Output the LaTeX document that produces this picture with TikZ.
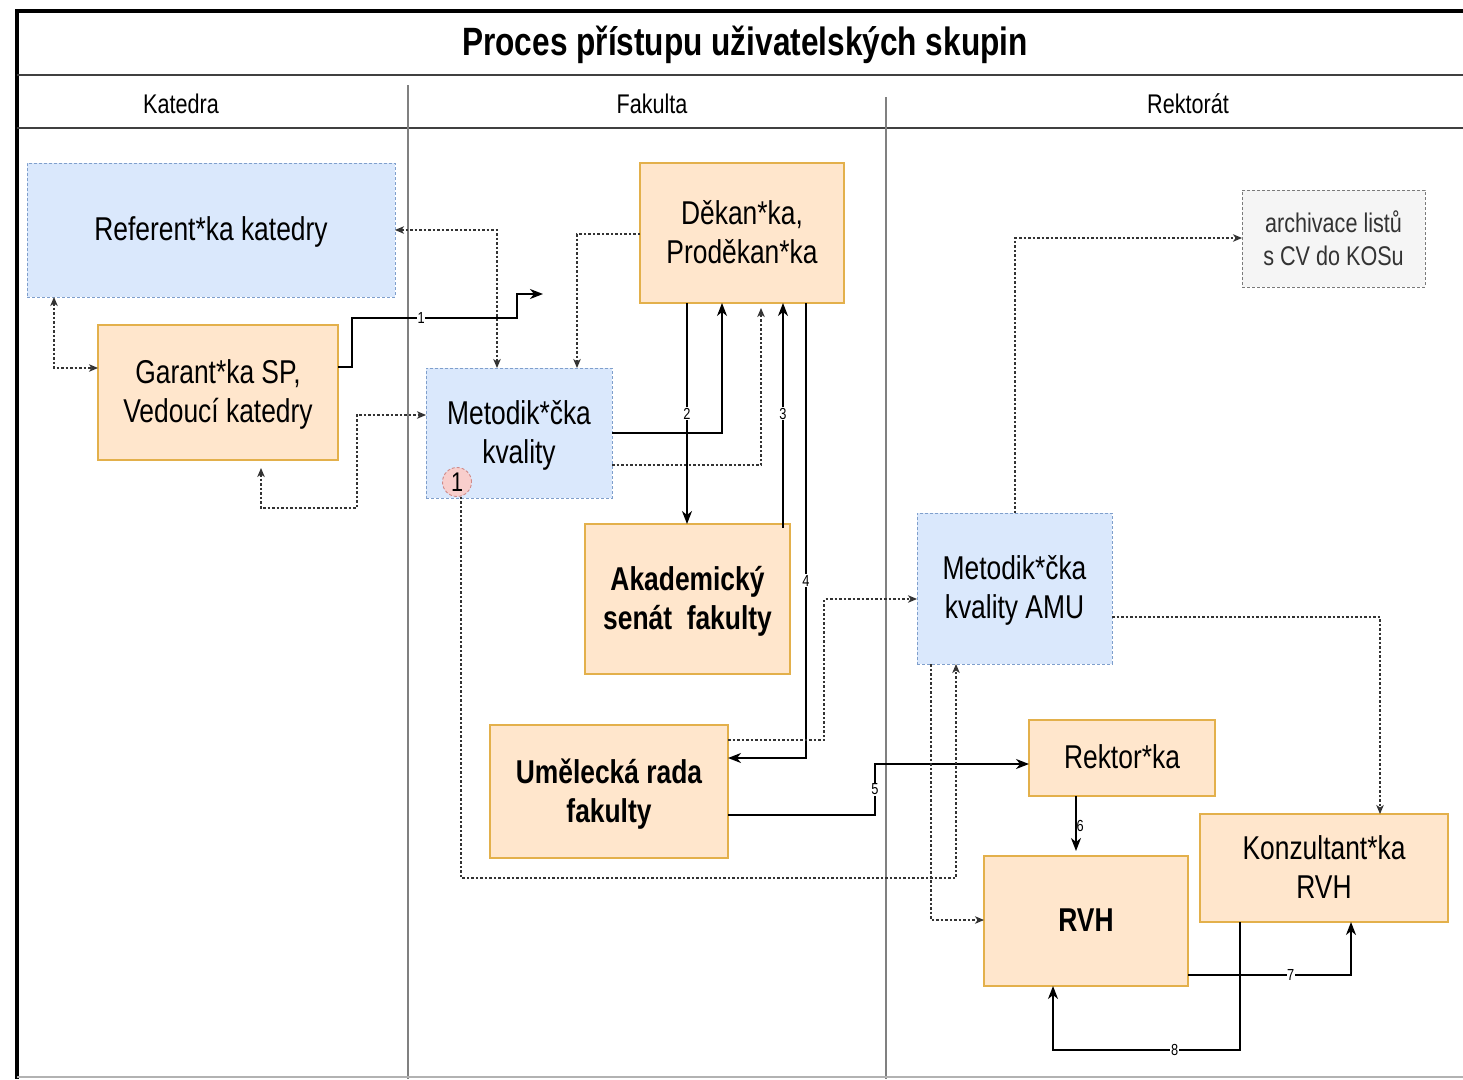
\documentclass[tikz,border=0pt]{standalone}
\usepackage{fontspec}
\setmainfont{Liberation Sans}[FakeStretch=0.8]
\usepackage{tikz}
\usetikzlibrary{arrows.meta}

\definecolor{fillorange}{HTML}{FFE6CC}
\definecolor{lineorange}{HTML}{E3B04B}
\definecolor{fillblue}{HTML}{DAE8FC}
\definecolor{lineblue}{HTML}{7F9FCC}
\definecolor{fillgray}{HTML}{F5F5F5}
\definecolor{linegray}{HTML}{7A7A7A}
\definecolor{textgray}{HTML}{333333}
\definecolor{fillred}{HTML}{F8CECC}
\definecolor{linered}{HTML}{D08A88}
\definecolor{lanegray}{HTML}{808080}

\newcommand{\titlesize}{\fontsize{39.5}{44}\selectfont}
\newcommand{\lanesize}{\fontsize{27}{32}\selectfont}
\newcommand{\boxsize}{\fontsize{33}{39}\selectfont}
\newcommand{\archsize}{\fontsize{27}{33}\selectfont}
\newcommand{\numsize}{\fontsize{16}{17}\selectfont}

\begin{document}
\begin{tikzpicture}[x=1pt,
            y=-1pt,
            >={Stealth[length=13pt, width=10pt, inset=4pt]},
            orangebox/.style={draw=lineorange, fill=fillorange, line width=1.2pt,
                              inner sep=0pt, outer sep=0pt, align=center, font=\boxsize,
                              text depth=0.25em},
            bluebox/.style={draw=lineblue, fill=fillblue, line width=0.9pt,
                            dash pattern=on 3pt off 2pt, inner sep=0pt, outer sep=0pt,
                            align=center, font=\boxsize, text depth=0.25em},
            graybox/.style={draw=linegray, fill=fillgray, line width=0.9pt,
                            dash pattern=on 3pt off 2pt, inner sep=0pt, outer sep=0pt,
                            align=center, text=textgray, font=\archsize},
            lanelabel/.style={font=\lanesize},
            solidline/.style={draw=black, line width=1.8pt},
            thinline/.style={draw=black, line width=1.2pt},
            dotline/.style={draw=textgray, line width=1.1pt, dash pattern=on 2.5pt off 2pt,
                            >={Stealth[length=9pt, width=7.5pt, inset=2.5pt]}},
            numlbl/.style={font=\numsize, fill=white, inner sep=0.6pt}]

        \useasboundingbox (0,0) rectangle (1463,1079);

        \draw[line width=4pt] (15,11) -- (1463,11);
        \draw[line width=4pt] (17,11) -- (17,1079);
        \draw[draw=black!75, line width=1.5pt] (17,75) -- (1463,75);
        \draw[draw=black!75, line width=1.5pt] (17,128) -- (1463,128);
        \draw[draw=lanegray, line width=1.2pt] (408,85) -- (408,1079);
        \draw[draw=lanegray, line width=1.2pt] (886,97) -- (886,1079);
        \draw[draw=black!30, line width=1.2pt] (17,1077) -- (1463,1077);

        \node[font=\titlesize\bfseries] (title) at (745,45)  {Proces přístupu uživatelských skupin};
        \node[lanelabel]                (katedra) at (181,104) {Katedra};
        \node[lanelabel]                (fakulta) at (652,104) {Fakulta};
        \node[lanelabel]                (rektorat) at (1188,104) {Rektorát};

        \node[bluebox, minimum width=368, minimum height=134] (referent) at (211,230)   {Referent*ka katedry};
        \node[orangebox, minimum width=240, minimum height=135] (garant) at (218,392.5) {Garant*ka SP,\\Vedoucí katedry};
        \node[bluebox, minimum width=186, minimum height=130] (metodik) at (519,433)    {Metodik*čka\\kvality};
        \node[circle, draw=linered, fill=fillred, line width=0.9pt, dash pattern=on 3pt off 2pt,
              minimum size=29, inner sep=0pt, font=\lanesize] (circ) at (457,482) {1};
        \node[orangebox, minimum width=204, minimum height=140] (dekan) at (742,233)    {Děkan*ka,\\Proděkan*ka};
        \node[orangebox, minimum width=205, minimum height=150, font=\boxsize\bfseries] (senat) at (687.5,599) {Akademický\\senát~ fakulty};
        \node[orangebox, minimum width=238, minimum height=133, font=\boxsize\bfseries] (rada) at (609,791.5) {Umělecká rada\\fakulty};
        \node[graybox, minimum width=183, minimum height=97] (archiv) at (1333.5,238.5) {archivace listů\\s CV do KOSu};
        \node[bluebox, minimum width=195, minimum height=151] (metamu) at (1014.5,588.5) {Metodik*čka\\kvality AMU};
        \node[orangebox, minimum width=186, minimum height=76] (rektor) at (1122,758)   {Rektor*ka};
        \node[orangebox, minimum width=204, minimum height=130, font=\boxsize\bfseries] (rvh) at (1086,921) {RVH};
        \node[orangebox, minimum width=248, minimum height=108] (konz) at (1324,868)    {Konzultant*ka\\RVH};

        \coordinate (loose) at (543,294);

        \draw[solidline, line width=2.2pt, ->] (garant.east |- 0,367) -- (352,367) -- (352,318)
              -- node[numlbl, pos=0.42] {1} (517,318) -- (517,294) -- (loose);
        \draw[dotline, <->] (referent.east |- 0,230) -- (497,230) -- (metodik.north -| 497,0);
        \draw[dotline, ->] (dekan.west |- 0,234) -- (577,234) -- (metodik.north -| 577,0);
        \draw[dotline, <->] (referent.south -| 54,0) -- (54,368) -- (garant.west |- 0,368);
        \draw[dotline, <->, shorten <=8pt] (garant.south -| 261,0) -- (261,508) -- (357,508)
              -- (357,415) -- (metodik.west |- 0,415);
        \draw[thinline, ->] (metodik.east |- 0,433) -- (722,433) -- (dekan.south -| 722,0);
        \draw[dotline, ->, shorten >=5pt] (metodik.east |- 0,465) -- (761,465) -- (dekan.south -| 761,0);
        \draw[solidline, ->] (dekan.south -| 687,0) -- node[numlbl] {2} (senat.north -| 687,0);
        \draw[solidline, ->, shorten <=-4pt] (senat.north -| 783,0) -- node[numlbl] {3} (dekan.south -| 783,0);
        \draw[solidline, ->] (dekan.south -| 806,0) -- node[numlbl, pos=0.61] {4} (806,758) -- (rada.east |- 0,758);
        \draw[dotline, ->] (rada.east |- 0,740) -- (824,740) -- (824,599) -- (metamu.west |- 0,599);
        \draw[solidline, ->] (rada.east |- 0,815) -- (875,815) -- node[numlbl] {5} (875,764) -- (rektor.west |- 0,764);
        \draw[dotline, ->] (circ.south -| 461,0) -- (461,878) -- (956,878) -- (metamu.south -| 956,0);
        \draw[dotline, ->] (metamu.south -| 931,0) -- (931,920) -- (rvh.west |- 0,920);
        \draw[dotline, ->] (metamu.east |- 0,617) -- (1380,617) -- (konz.north -| 1380,0);
        \draw[dotline, ->] (metamu.north -| 1015,0) -- (1015,238) -- (archiv.west |- 0,238);
        \draw[solidline, ->, shorten >=5pt] (rektor.south -| 1076,0) -- node[numlbl, fill=none, right, xshift=-1pt] {6} (rvh.north -| 1076,0);
        \draw[solidline, ->] (rvh.east |- 0,975) -- node[numlbl, pos=0.63] {7} (1351,975) -- (konz.south -| 1351,0);
        \draw[solidline, ->] (konz.south -| 1240,0) -- (1240,1050) -- node[numlbl, pos=0.35] {8} (1053,1050)
              -- (rvh.south -| 1053,0);

    \end{tikzpicture}
\end{document}
